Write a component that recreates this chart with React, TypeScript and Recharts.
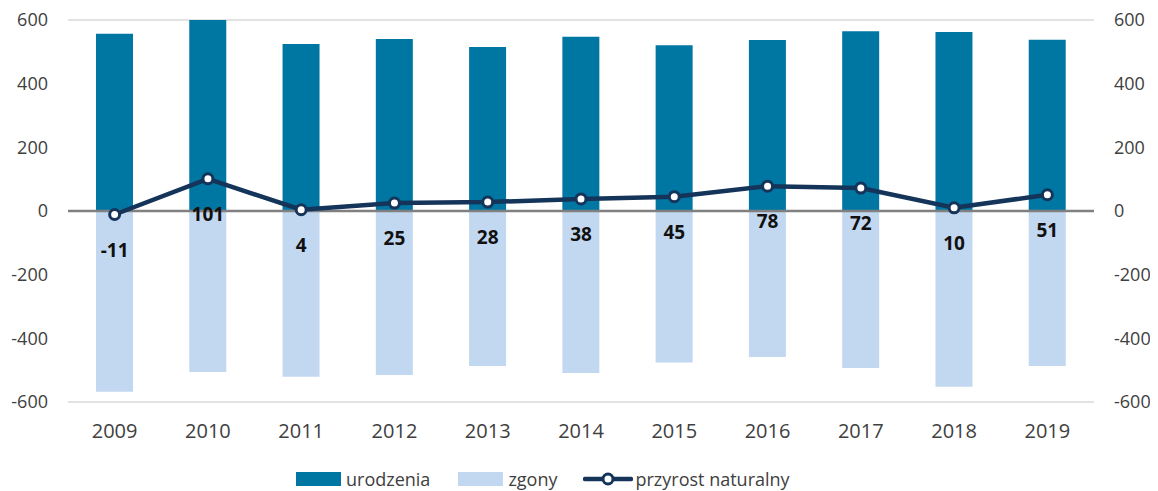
import React from 'react';
import {
  ComposedChart, Bar, Line, XAxis, YAxis, CartesianGrid, ReferenceLine, Legend, LabelList,
} from 'recharts';

const years = ['2009', '2010', '2011', '2012', '2013', '2014', '2015', '2016', '2017', '2018', '2019'];
const births = [557, 607, 525, 540, 515, 547, 521, 537, 565, 562, 538];
const deaths = [-568, -506, -521, -515, -487, -509, -476, -459, -493, -552, -487];
const increase = [-11, 101, 4, 25, 28, 38, 45, 78, 72, 10, 51];
const yTicks = [-600, -400, -200, 0, 200, 400, 600];

const BIRTH_COLOR = '#0077A3';
const DEATH_COLOR = '#C2D8F0';
const LINE_COLOR = '#14345A';
const TEXT_COLOR = '#404040';
const FONT = '"Open Sans", sans-serif';

const data = years.map((y, i) => ({
  year: y,
  urodzenia: births[i],
  zgony: deaths[i],
  przyrost: increase[i],
}));

const ValueLabel = (props: any) => {
  const { x, y, value } = props;
  return (
    <text
      x={x}
      y={y + 35}
      textAnchor="middle"
      dominantBaseline="central"
      fontFamily={FONT}
      fontWeight={700}
      fontSize={19}
      fill="#111"
    >
      {value}
    </text>
  );
};

const LegendContent = () => (
  <div
    style={{
      height: 39,
      position: 'relative',
      fontFamily: FONT,
      fontSize: 18,
      color: TEXT_COLOR,
    }}
  >
    <div style={{ position: 'absolute', left: 288, top: 17, display: 'flex', alignItems: 'center', height: 20 }}>
      <span style={{ display: 'inline-block', width: 45, height: 14, background: BIRTH_COLOR, marginRight: 5 }} />
      <span style={{ marginRight: 28 }}>urodzenia</span>
      <span style={{ display: 'inline-block', width: 45, height: 14, background: DEATH_COLOR, marginRight: 5 }} />
      <span style={{ marginRight: 26 }}>zgony</span>
      <svg width={50} height={16} style={{ marginRight: 2 }}>
        <line x1={2} y1={8} x2={48} y2={8} stroke={LINE_COLOR} strokeWidth={4.5} strokeLinecap="round" />
        <circle cx={25} cy={8} r={5} fill="#fff" stroke={LINE_COLOR} strokeWidth={3} />
      </svg>
      <span>przyrost naturalny</span>
    </div>
  </div>
);

export default function App() {
  return (
    <ComposedChart
      width={1150}
      height={483}
      data={data}
      stackOffset="sign"
      margin={{ top: 12, right: 0, left: 0, bottom: 0 }}
    >
      <CartesianGrid vertical={false} stroke="#D9D9D9" strokeWidth={1.5} />
      <XAxis
        dataKey="year"
        axisLine={false}
        tickLine={false}
        height={50}
        tickMargin={16}
        tick={{ fill: TEXT_COLOR, fontSize: 20, fontFamily: FONT }}
      />
      <YAxis
        yAxisId="left"
        domain={[-600, 600]}
        ticks={yTicks}
        allowDataOverflow
        axisLine={false}
        tickLine={false}
        width={60}
        tickMargin={14}
        tick={{ fill: TEXT_COLOR, fontSize: 18, fontFamily: FONT }}
      />
      <YAxis
        yAxisId="right"
        orientation="right"
        domain={[-600, 600]}
        ticks={yTicks}
        allowDataOverflow
        axisLine={false}
        tickLine={false}
        width={64}
        tickMargin={14}
        tick={{ fill: TEXT_COLOR, fontSize: 18, fontFamily: FONT, textAnchor: 'start' }}
      />
      <Bar yAxisId="left" dataKey="urodzenia" stackId="a" fill={BIRTH_COLOR} barSize={37} isAnimationActive={false} />
      <Bar yAxisId="left" dataKey="zgony" stackId="a" fill={DEATH_COLOR} barSize={37} isAnimationActive={false} />
      <ReferenceLine yAxisId="left" y={0} stroke="#808080" strokeWidth={2.5} />
      <Line
        yAxisId="right"
        dataKey="przyrost"
        stroke={LINE_COLOR}
        strokeWidth={4.5}
        dot={{ r: 5, fill: '#fff', stroke: LINE_COLOR, strokeWidth: 3 }}
        activeDot={false}
        isAnimationActive={false}
      >
        <LabelList dataKey="przyrost" content={<ValueLabel />} />
      </Line>
      <Legend verticalAlign="bottom" content={<LegendContent />} />
    </ComposedChart>
  );
}
